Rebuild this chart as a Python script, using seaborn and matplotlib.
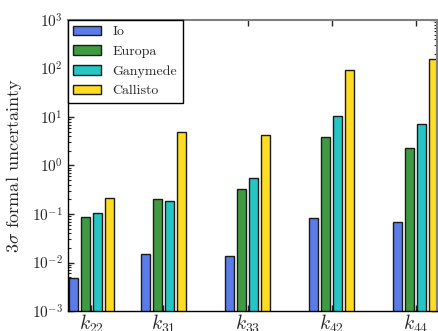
import numpy as np
import seaborn as sns
import pandas as pd
from matplotlib import pyplot as plt

# values (log scale)
terms = ['$k_{22}$', '$k_{31}$', '$k_{33}$', '$k_{42}$', '$k_{44}$']
moons = ['Io', 'Europa', 'Ganymede', 'Callisto']
io = [0.0049, 0.0148, 0.0134, 0.081, 0.067]
europa = [0.088, 0.204, 0.323, 3.9, 2.33]
ganymede = [0.106, 0.185, 0.545, 10.5, 7.1]
callisto = [0.217, 4.9, 4.3, 93, 157]

# group centres along x (first group sits a bit closer)
group_pos = [0.143, 1.0, 2.0, 3.0, 4.0]
colors = ['#5b7be8', '#3f9b41', '#26c6c4', '#fddc22']

sns.set_style("ticks")
plt.rcParams['font.family'] = 'serif'
plt.rcParams['font.serif'] = ['cmr10', 'DejaVu Serif']
plt.rcParams['mathtext.fontset'] = 'cm'
plt.rcParams['axes.formatter.use_mathtext'] = True
plt.rcParams['axes.unicode_minus'] = False

rows = []
for moon, vals in zip(moons, [io, europa, ganymede, callisto]):
    for pos, v in zip(group_pos, vals):
        rows.append({'pos': pos, 'moon': moon, 'value': v})
df = pd.DataFrame(rows)

fig = plt.figure(figsize=(4.38, 3.31), dpi=100)
ax = fig.add_axes([0.155, 0.0604, 0.843, 0.8792])
ax.set_yscale('log')

sns.barplot(data=df, x='pos', y='value', hue='moon', hue_order=moons,
            palette=colors, saturation=1, native_scale=True, width=0.667,
            gap=0.29, edgecolor='0.1', linewidth=1.0, ax=ax)

ax.set_ylim(1e-3, 1e3)
ax.set_xlim(-0.137, 4.256)
ax.set_xticks(group_pos)
ax.set_xticklabels(terms, fontsize=14)
ax.set_xlabel('')
ax.set_ylabel(r'$3\sigma$ formal uncertainty', fontsize=13, labelpad=6)
ax.tick_params(axis='y', labelsize=11)
ax.tick_params(which='both', direction='in', top=True, right=True)
ax.tick_params(which='major', length=4, width=1)
ax.tick_params(which='minor', length=2, width=0.8)
ax.tick_params(axis='x', pad=1)

for side in ['left', 'bottom']:
    ax.spines[side].set_color('black')
    ax.spines[side].set_linewidth(1.0)
for side in ['top', 'right']:
    ax.spines[side].set_color('0.5')
    ax.spines[side].set_linewidth(1.5)

sns.move_legend(ax, 'upper left', frameon=True, fancybox=False,
                edgecolor='black', framealpha=1, borderaxespad=0,
                title=None, fontsize=10)
ax.get_legend().get_frame().set_linewidth(1.0)

fig.savefig('out.png', dpi=100)
